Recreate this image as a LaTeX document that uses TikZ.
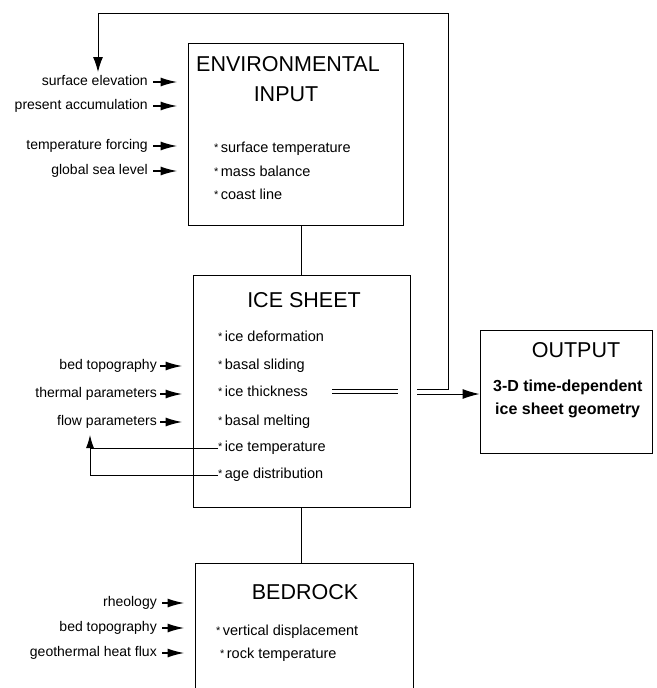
\documentclass[tikz,border=0pt]{standalone}
\usepackage{fontspec}
\setmainfont{Liberation Sans}
\usetikzlibrary{arrows.meta}

\newcommand{\bul}{\raisebox{1pt}{\fontsize{11}{11}\selectfont*}\,}

\tikzset{
  blockbox/.style={draw, line width=0.9pt, inner sep=0pt},
  boxtitle/.style={inner sep=0pt, font=\fontsize{21.5}{24}\selectfont},
  bulletitem/.style={anchor=west, inner sep=0pt, text height=10pt, text depth=3pt, font=\fontsize{14.5}{16}\selectfont},
  inlabel/.style={anchor=east, inner sep=0pt, text height=10pt, text depth=3pt, font=\fontsize{14}{16}\selectfont},
  inarrow/.style={line width=1.8pt, -{Latex[length=17pt,width=9pt]}},
  outtext/.style={anchor=west, inner sep=0pt, font=\bfseries\fontsize{16}{18}\selectfont},
  link/.style={line width=1pt}
}

\begin{document}
\begin{tikzpicture}[x=1pt,y=-1pt]
\useasboundingbox (0,0) rectangle (656,688);

\node[blockbox, minimum width=215pt, minimum height=182pt] (env) at (295.5,134) {};
\node[blockbox, minimum width=217pt, minimum height=232pt] (ice) at (301.5,391) {};
\node[blockbox, minimum width=218pt, minimum height=157pt] (bed) at (304,641.5) {};
\node[blockbox, minimum width=172pt, minimum height=123pt] (out) at (566,391.5) {};

\node[boxtitle] (envtitle) at (288,64) {ENVIRONMENTAL};
\node[boxtitle] (envtitleb) at (286,94) {INPUT};
\node[boxtitle] (icetitle) at (304,300) {ICE SHEET};
\node[boxtitle] (bedtitle) at (305,592) {BEDROCK};
\node[boxtitle] (outtitle) at (576,350) {OUTPUT};
\node[outtext] (outa) at (493,387) {3-D time-dependent};
\node[outtext] (outb) at (495,410) {ice sheet geometry};

\foreach \txt/\yy [count=\i] in {surface temperature/149, mass balance/173, coast line/196}
  \node[bulletitem] (envit\i) at (214,\yy) {\bul\txt};
\foreach \txt/\yy [count=\i] in {ice deformation/338, basal sliding/366, ice thickness/393, basal melting/422}
  \node[bulletitem] (iceit\i) at (218,\yy) {\bul\txt};
\node[bulletitem] (itemp) at (218,448) {\bul ice temperature};
\node[bulletitem] (iage) at (218,475) {\bul age distribution};
\node[bulletitem] (bedit1) at (216,632) {\bul vertical displacement};
\node[bulletitem] (bedit2) at (220,655) {\bul rock temperature};

\foreach \txt/\yy [count=\i] in {surface elevation/82, present accumulation/106, temperature forcing/146, global sea level/171} {
  \node[inlabel] (envin\i) at (148,\yy) {\txt};
  \draw[inarrow, shorten <=5pt, shorten >=10pt] (envin\i.east) -- (envin\i.east -| env.west);
}
\foreach \txt/\yy [count=\i] in {bed topography/366, thermal parameters/394, flow parameters/422} {
  \node[inlabel] (icein\i) at (157,\yy) {\txt};
  \draw[inarrow, shorten <=3pt, shorten >=10pt] (icein\i.east) -- (icein\i.east -| ice.west);
}
\foreach \txt/\yy [count=\i] in {rheology/603, bed topography/628, geothermal heat flux/653} {
  \node[inlabel] (bedin\i) at (157,\yy) {\txt};
  \draw[inarrow, shorten <=5pt, shorten >=10pt] (bedin\i.east) -- (bedin\i.east -| bed.west);
}

\draw[link] (ice.north) -- (ice.north |- env.south);
\draw[link] (ice.south) -- (ice.south |- bed.north);

\coordinate (fbjoin) at (90,448);
\coordinate (fbtip) at (90,435);
\draw[link] (itemp.west) -- (itemp.west -| fbjoin);
\draw[link, -{Latex[length=13pt,width=8pt]}] (iage.west) -| (fbtip);

\coordinate (dbla) at (332,391.5);
\coordinate (dblb) at (398,391.5);
\coordinate (dblc) at (417,389);
\coordinate (dbld) at (417,394);
\coordinate (loopa) at (448,389);
\coordinate (loopb) at (448,13);
\coordinate (looptip) at (98,72);
\draw[link, double, double distance=3.5pt] (dbla) -- (dblb);
\draw[link, -{Latex[length=15pt,width=10pt]}] (dblc) -- (loopa) -- (loopb) -| (looptip);
\draw[link, -{Latex[length=17pt,width=10pt]}] (dbld) -- (dbld -| out.west);
\end{tikzpicture}
\end{document}
